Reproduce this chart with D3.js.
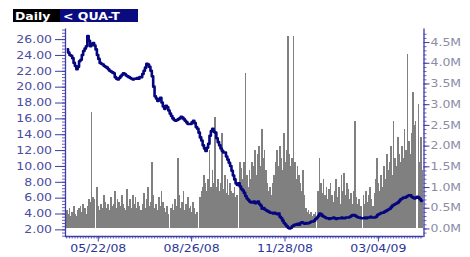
<!DOCTYPE html>
<html>
<head>
<meta charset="utf-8">
<script src="https://cdn.jsdelivr.net/npm/d3@7"></script>
<style>
  body { margin: 0; background: #fff; }
  text { font-family: "DejaVu Sans", sans-serif; }
</style>
</head>
<body>
<div id="main"></div>
<script>
// trading days start here, 52 weeks of weekdays
var firstDay = "2008-04-21";
var weeks = 52;

// closing price, one per trading day
var price = [
  24.7, 24.3, 24.0, 23.9, 23.6,   23.0, 22.6, 22.2, 22.5, 23.2,
  23.4, 24.0, 24.5, 24.8, 25.1,   26.4, 25.8, 25.1, 25.3, 25.5,
  25.2, 24.7, 24.0, 23.5, 23.0,   22.9, 22.8, 22.6, 22.5, 22.4,
  22.2, 22.0, 21.9, 21.8, 21.7,   21.2, 21.0, 20.9, 21.1, 21.3,
  21.5, 21.7, 21.6, 21.4, 21.3,   21.2, 21.1, 21.0, 20.9, 21.0,
  21.0, 21.1, 21.0, 21.2, 21.2,   21.6, 22.0, 22.4, 22.9, 22.8,
  22.5, 22.0, 21.3, 20.0, 18.8,   18.5, 18.2, 18.4, 18.6, 18.0,
  17.5, 17.2, 17.6, 17.4, 17.0,   16.6, 16.3, 16.0, 15.8, 15.7,
  15.8, 15.9, 16.0, 16.2, 16.1,   15.9, 15.7, 15.5, 15.3, 15.3,
  15.3, 15.5, 15.7, 15.4, 14.9,   14.7, 14.2, 13.6, 13.2, 12.6,
  12.2, 11.9, 12.3, 12.8, 13.8,   14.4, 14.7, 14.3, 14.2, 13.5,
  13.0, 12.6, 12.2, 11.9, 11.7,   11.7, 11.2, 10.8, 10.4, 10.0,
  9.4, 8.8, 8.3, 7.8, 7.6,        7.8, 7.4, 7.1, 6.9, 6.6,
  6.2, 5.9, 5.7, 5.5, 5.4,        5.4, 5.5, 5.3, 5.4, 5.5,
  5.2, 5.0, 4.6, 4.7, 4.5,        4.4, 4.3, 4.2, 4.1, 4.1,
  4.0, 4.1, 4.0, 3.9, 4.0,        3.6, 3.4, 3.1, 2.8, 2.6,
  2.4, 2.2, 2.1, 2.2, 2.4,        2.5, 2.6, 2.6, 2.7, 2.6,
  2.8, 2.9, 2.8, 2.7, 2.8,        2.75, 2.8, 2.9, 3.0, 3.0,
  3.1, 3.3, 3.5, 3.7, 4.0,        3.9, 3.7, 3.6, 3.5, 3.4,
  3.4, 3.3, 3.4, 3.4, 3.5,        3.4, 3.3, 3.4, 3.4, 3.4,
  3.5, 3.4, 3.4, 3.5, 3.5,        3.5, 3.6, 3.7, 3.8, 3.8,
  3.7, 3.6, 3.5, 3.5, 3.4,        3.4, 3.4, 3.5, 3.4, 3.5,
  3.5, 3.6, 3.5, 3.5, 3.5,        3.6, 3.8, 3.9, 4.0, 4.1,
  4.1, 4.2, 4.3, 4.4, 4.5,        4.6, 4.8, 5.0, 5.1, 5.2,
  5.3, 5.4, 5.6, 5.8, 5.9,        6.0, 6.0, 6.1, 6.2, 6.3,
  6.3, 6.1, 6.0, 5.9, 6.0,        6.1, 6.0, 5.8, 5.6, 5.5
];

// volume in millions, one per trading day
var volume = [
  0.45, 0.35, 0.5, 0.3, 0.4, 0.55, 0.35, 0.3, 0.45, 0.5,
  0.55, 0.4, 0.6, 0.5, 0.35, 0.55, 0.7, 0.65, 2.8, 0.75,
  0.7, 0, 1.0, 0.55, 0.45, 0.6, 0.5, 0.8, 0.65, 0.5,
  0.6, 0.45, 0.75, 0.55, 0.6, 0.9, 0.5, 0.7, 0.65, 0.55,
  0.8, 0.6, 0.5, 0.45, 0.95, 0.55, 0.7, 0.5, 0.8, 0.6,
  0.75, 0.5, 0.65, 0.55, 0.45, 0.6, 0.85, 0.5, 0.7, 1.0,
  0.55, 0.65, 1.6, 0.8, 0.5, 0.6, 0.45, 0.75, 0.55, 0.9,
  0.65, 0.5, 0.4, 0.55, 0.35, 0, 0.5, 0.6, 0.45, 0.7,
  0.55, 1.7, 0.8, 0.5, 0.65, 0.9, 0.45, 0.6, 0.75, 0.5,
  0.55, 0.4, 0.65, 0.5, 0.35, 0.4, 0, 0.75, 0.9, 1.0,
  1.3, 1.1, 0.9, 1.2, 1.9, 1.0, 1.4, 1.1, 2.7, 1.0,
  1.2, 0.9, 1.1, 2.3, 0.95, 1.3, 0.85, 1.2, 0.8, 1.1,
  0.9, 0.85, 1.0, 0.75, 0.8, 0, 1.6, 1.45, 1.2, 1.6,
  3.75, 1.3, 1.0, 1.4, 1.2, 1.6, 1.5, 1.9, 1.3, 1.8,
  2.0, 1.5, 2.4, 1.7, 1.9, 1.4, 1.1, 0.9, 1.0, 0.8,
  1.1, 1.3, 1.6, 1.9, 1.5, 2.0, 1.7, 1.4, 2.3, 1.6,
  1.9, 4.65, 1.8, 1.5, 1.7, 4.65, 1.6, 1.2, 1.5, 1.3,
  1.1, 0.9, 1.4, 0.8, 0.5, 0.4, 0.45, 0.35, 0.4, 0.3,
  0.35, 0.4, 0, 0.9, 1.7, 1.1, 0.85, 1.2, 0.8, 1.0,
  0.7, 0.95, 1.1, 0.8, 0.65, 0.9, 1.2, 0.75, 1.0, 0.6,
  1.3, 0.9, 1.35, 0.8, 1.1, 0.95, 0.7, 0.85, 0.6, 0.9,
  2.6, 0.75, 0.6, 0.7, 0.55, 0, 0.8, 0.6, 0.9, 0.65,
  0.8, 1.0, 0.7, 0.55, 0.85, 1.2, 1.7, 1.1, 0.9, 1.3,
  1.0, 1.5, 1.2, 1.8, 1.4, 1.6, 2.0, 1.3, 2.6, 1.7,
  1.5, 2.2, 1.8, 1.6, 2.0, 1.7, 2.4, 1.9, 4.2, 2.1,
  1.8, 2.3, 3.3, 2.5, 2.6, 0, 3.0, 1.6, 2.2, 1.4
];

var dateTicks = ["2008-05-22", "2008-08-26", "2008-11-28", "2009-03-04"];
var priceTicks = [2, 4, 6, 8, 10, 12, 14, 16, 18, 20, 22, 24, 26];
var volumeTicks = [0, 0.5, 1, 1.5, 2, 2.5, 3, 3.5, 4, 4.5];

var svgWidth = 470, svgHeight = 257;
var plotLeft = 65, plotRight = 423.5, plotTop = 28, plotBottom = 236.5;
var axisColor = "#3c3ca8";
var stretch = 1.25; // labels in the picture are wide

var parse = d3.timeParse("%Y-%m-%d");
var keyFmt = d3.timeFormat("%Y-%m-%d");
var labelFmt = d3.timeFormat("%m/%d/%y");

var start = parse(firstDay);
var days = d3.timeDay.range(start, d3.timeDay.offset(start, weeks * 7))
  .filter(function(d) { return d.getDay() > 0 && d.getDay() < 6; })
  .map(keyFmt);

var svg = d3.select("#main").append("svg")
  .attr("width", svgWidth)
  .attr("height", svgHeight);

var x = d3.scaleBand().domain(days).range([66, 423]).padding(0);
var yPrice = d3.scaleLinear().domain([1.1, 27.4]).range([plotBottom, plotTop]);
var yVol = d3.scaleLinear().domain([-0.194, 4.839]).range([plotBottom, plotTop]);

// volume bars, a bit wider than the band so neighbours merge
svg.append("g")
  .attr("shape-rendering", "crispEdges")
  .selectAll("rect")
  .data(volume)
  .enter()
  .append("rect")
  .attr("x", function(d, i) { return x(days[i]); })
  .attr("width", x.bandwidth() + 0.3)
  .attr("y", function(d) { return yVol(d); })
  .attr("height", function(d) { return yVol(0) - yVol(d); })
  .style("fill", "#808080");

// price line
var line = d3.line()
  .x(function(d, i) { return x(days[i]) + x.bandwidth() / 2; })
  .y(function(d) { return yPrice(d); })
  .curve(d3.curveStepAfter);

svg.append("path")
  .datum(price)
  .attr("d", line)
  .style("fill", "none")
  .style("stroke", "#05057e")
  .style("stroke-width", 2.6)
  .style("stroke-linejoin", "round");

function styleAxis(g, labelColor) {
  g.select(".domain").style("stroke", axisColor).style("stroke-width", 1.3);
  g.selectAll(".tick line").style("stroke", axisColor);
  g.selectAll("text")
    .style("font-size", "10px")
    .style("fill", labelColor)
    .attr("x", function() { return (+this.getAttribute("x") || 0) / stretch; })
    .attr("transform", "scale(" + stretch + ",1)");
}

function minor(g) {
  g.select(".domain").remove();
  g.selectAll(".tick line").style("stroke", axisColor).style("stroke-width", 0.8);
}

// left axis
svg.append("g")
  .attr("transform", "translate(" + plotLeft + ",0)")
  .call(d3.axisLeft(yPrice).tickValues(d3.range(3, 69).map(function(k) { return k * 0.4; }))
    .tickSize(3).tickFormat(""))
  .call(minor);
svg.append("g")
  .attr("transform", "translate(" + plotLeft + ",0)")
  .call(d3.axisLeft(yPrice).tickValues(priceTicks).tickFormat(d3.format(".2f"))
    .tickSizeInner(10).tickSizeOuter(0).tickPadding(3))
  .call(styleAxis, "#4b4b9e");

// right axis
svg.append("g")
  .attr("transform", "translate(" + plotRight + ",0)")
  .call(d3.axisRight(yVol).tickValues(d3.range(-1, 48).map(function(k) { return k / 10; }))
    .tickSize(3).tickFormat(""))
  .call(minor);
svg.append("g")
  .attr("transform", "translate(" + plotRight + ",0)")
  .call(d3.axisRight(yVol).tickValues(volumeTicks)
    .tickFormat(function(d) { return d.toFixed(1) + "M"; })
    .tickSizeInner(6).tickSizeOuter(0).tickPadding(1))
  .call(styleAxis, "#8c8ca6");

// bottom axis
svg.append("g")
  .attr("transform", "translate(0," + plotBottom + ")")
  .call(d3.axisBottom(x).tickValues(days.filter(function(d, i) { return i % 2 === 0; }))
    .tickSize(2).tickFormat(""))
  .call(minor);
svg.append("g")
  .attr("transform", "translate(0," + plotBottom + ")")
  .call(d3.axisBottom(x).tickValues(dateTicks)
    .tickFormat(function(d) { return labelFmt(parse(d)); })
    .tickSizeInner(5).tickSizeOuter(0).tickPadding(3))
  .call(styleAxis, "#2a3596")
  .call(function(g) {
    g.select(".domain").attr("d", "M" + plotLeft + ",0H" + plotRight);
  });

// header tabs
var header = svg.append("g");
header.append("rect").attr("x", 13).attr("y", 9).attr("width", 47).attr("height", 13)
  .style("fill", "#000");
header.append("rect").attr("x", 60).attr("y", 9).attr("width", 78).attr("height", 13)
  .style("fill", "#0b0b80");
header.append("text")
  .attr("transform", "translate(15,19.5) scale(" + stretch + ",1)")
  .style("font-size", "10px").style("font-weight", "bold").style("fill", "#fff")
  .text("Daily");
header.append("text")
  .attr("transform", "translate(63,19.5) scale(" + stretch + ",1)")
  .style("font-size", "10px").style("font-weight", "bold").style("fill", "#fff")
  .text("< QUA-T");
</script>
</body>
</html>
